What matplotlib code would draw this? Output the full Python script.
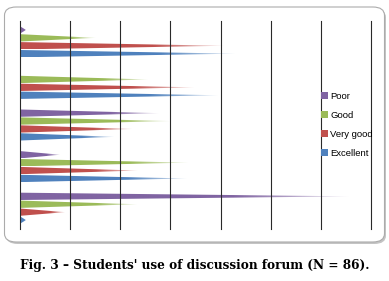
#Cone-style horizontal bar chart of students' use of the discussion forum.
import numpy as np
import matplotlib
matplotlib.use("Agg")
import matplotlib.pyplot as plt
from matplotlib.patches import Polygon, Patch, FancyBboxPatch

# Percent of students per rating, one list per series (groups top to bottom)
groups = ["Item 1", "Item 2", "Item 3", "Item 4", "Item 5"]
poor = [1.2, 0.0, 27.7, 8.0, 65.7]
good = [15.1, 25.6, 30.0, 33.6, 23.4]
very_good = [40.7, 34.8, 22.4, 23.5, 9.0]
excellent = [43.0, 39.6, 18.8, 33.3, 1.2]

series_names = ["Poor", "Good", "Very good", "Excellent"]
series_values = [poor, good, very_good, excellent]
colors = ["#8064A2", "#9BBB59", "#C0504D", "#4F81BD"]


def draw_cone(ax, y, value, half, color):
    """Draw one cone bar that fades out toward its tip."""
    if value <= 0:
        return
    tri = Polygon([(0, y - half), (value, y), (0, y + half)], closed=True,
                  facecolor="none", edgecolor="none")
    ax.add_patch(tri)
    rgb = matplotlib.colors.to_rgb(color)
    n = 200
    t = np.linspace(0, 1, n)
    alpha = np.clip(1.0 - np.clip((t - 0.65) / 0.35, 0, 1) * 0.8, 0, 1)
    img = np.zeros((1, n, 4))
    img[0, :, :3] = rgb
    img[0, :, 3] = alpha
    im = ax.imshow(img, extent=(0, value, y - half, y + half), aspect="auto",
                   interpolation="bilinear", zorder=2)
    im.set_clip_path(tri)


def main():
    """Mainline logic for plotting the cone chart."""
    fig = plt.figure(figsize=(3.89, 2.81), dpi=100)

    # Rounded chart-area frame with a soft shadow
    shadow = FancyBboxPatch((6 / 389, 1 - 244 / 281), 380 / 389, 235 / 281,
                            boxstyle="round,pad=0,rounding_size=0.03",
                            transform=fig.transFigure, facecolor="#C4C4C4",
                            edgecolor="none", zorder=-2)
    frame = FancyBboxPatch((4.5 / 389, 1 - 242 / 281), 380 / 389, 235 / 281,
                           boxstyle="round,pad=0,rounding_size=0.03",
                           transform=fig.transFigure, facecolor="white",
                           edgecolor="#ABABAB", linewidth=0.8, zorder=-1)
    fig.patches.extend([shadow, frame])

    ax = fig.add_axes([20 / 389, 1 - 229 / 281, 351 / 389, 208 / 281])
    ax.set_zorder(1)
    ax.patch.set_alpha(0)

    width = 0.19
    half = 0.088
    for i, (values, color) in enumerate(zip(series_values, colors)):
        for g, v in enumerate(values):
            y = g + (i - 1.5) * width
            draw_cone(ax, y, v, half, color)

    ax.set_xlim(0, 70)
    ax.set_ylim(len(groups) - 0.5, -0.5)

    #Dark vertical gridlines drawn over the cones.
    for x in range(0, 71, 10):
        ax.axvline(x, color="#2A2A2A", linewidth=0.8, zorder=3, clip_on=False)

    ax.set_xticks([])
    ax.set_yticks([])
    for spine in ax.spines.values():
        spine.set_visible(False)

    handles = [Patch(facecolor=c, edgecolor="none") for c in colors]
    ax.legend(handles, series_names, loc="upper left",
              bbox_to_anchor=(321 / 389, 1 - 92 / 281),
              bbox_transform=fig.transFigure, frameon=False,
              handlelength=0.75, handleheight=0.75, handletextpad=0.25,
              labelspacing=1.05, borderpad=0, borderaxespad=0,
              prop={"family": "Liberation Sans", "size": 6.8})

    fig.text(0.5, 1 - 266 / 281,
             "Fig. 3 \u2013 Students' use of discussion forum (N = 86).",
             ha="center", va="center", fontsize=8.7, fontweight="bold",
             family="DejaVu Serif")

    fig.savefig("out.png", dpi=100)


if __name__ == '__main__':
    main()
